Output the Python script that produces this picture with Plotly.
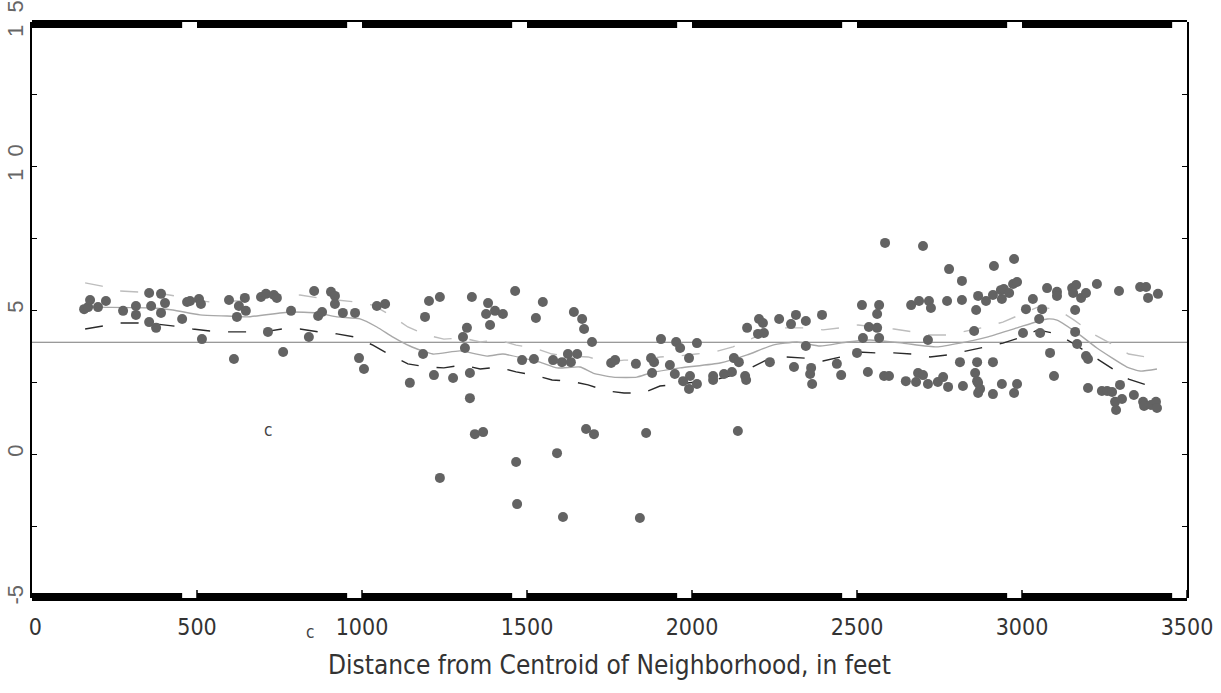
import plotly.graph_objects as go

# ---------------- data ----------------
pt_x = [158, 170, 176, 200, 224, 276, 315, 315, 355, 361, 391, 403, 391, 355, 376, 455, 470, 479, 506, 512,
        515, 597, 645, 627, 648, 621, 612, 694, 709, 733, 742, 715, 761, 785, 855, 839, 906, 918, 918, 867,
        879, 942, 979, 1045, 1070, 991, 1006, 1145, 1185, 1191, 1203, 1236, 1218, 1276, 1236, 1333, 1318, 1306, 1312, 1327,
        1327, 1342, 1367, 1382, 1376, 1403, 1427, 1388, 1464, 1485, 1521, 1467, 1470, 1548, 1527, 1579, 1606, 1624, 1633, 1652,
        1591, 1609, 1642, 1667, 1673, 1697, 1679, 1703, 1755, 1767, 1830, 1861, 1842, 1876, 1885, 1879, 1906, 1933, 1952, 1964,
        1948, 1973, 1991, 1994, 1991, 2015, 2015, 2064, 2064, 2097, 2121, 2127, 2142, 2161, 2164, 2139, 2167, 2203, 2215, 2200,
        2218, 2264, 2300, 2315, 2345, 2345, 2394, 2236, 2309, 2361, 2358, 2364, 2439, 2452, 2500, 2515, 2567, 2561, 2536, 2561,
        2518, 2567, 2533, 2582, 2597, 2585, 2700, 2779, 2915, 2976, 2818, 2664, 2688, 2718, 2724, 2773, 2818, 2867, 2861, 2891,
        2912, 2939, 2936, 2945, 2961, 2973, 2985, 2855, 2715, 2648, 2679, 2685, 2700, 2715, 2745, 2761, 2776, 2821, 2812, 2864,
        2912, 2858, 2864, 2867, 2873, 2867, 2912, 2939, 2985, 2976, 3012, 3033, 3061, 3052, 3003, 3055, 3076, 3106, 3106, 3085,
        3097, 3152, 3164, 3155, 3179, 3194, 3227, 3294, 3358, 3376, 3382, 3412, 3161, 3161, 3167, 3194, 3200, 3200, 3242, 3258,
        3273, 3297, 3282, 3285, 3303, 3339, 3367, 3370, 3391, 3406, 3409]
pt_y = [5.03, 5.10, 5.35, 5.10, 5.31, 4.97, 5.14, 4.83, 5.59, 5.14, 5.56, 5.24, 4.90, 4.58, 4.38, 4.69, 5.28, 5.31, 5.38, 5.21,
        3.99, 5.35, 5.42, 5.14, 4.97, 4.76, 3.30, 5.45, 5.56, 5.52, 5.42, 4.24, 3.54, 4.97, 5.66, 4.06, 5.63, 5.49, 5.21, 4.79,
        4.93, 4.90, 4.90, 5.14, 5.21, 3.33, 2.95, 2.47, 3.47, 4.76, 5.31, 5.45, 2.74, 2.64, -0.83, 5.45, 4.38, 4.06, 3.68, 2.81,
        1.94, 0.69, 0.76, 5.24, 4.86, 4.97, 4.86, 4.48, 5.66, 3.26, 3.30, -0.28, -1.74, 5.28, 4.72, 3.26, 3.19, 3.47, 3.19, 3.47,
        0.03, -2.19, 4.93, 4.69, 4.34, 3.89, 0.87, 0.69, 3.16, 3.26, 3.13, 0.73, -2.22, 3.33, 3.19, 2.81, 3.99, 3.09, 3.89, 3.68,
        2.78, 2.53, 3.33, 2.71, 2.26, 3.85, 2.43, 2.71, 2.57, 2.78, 2.85, 3.33, 3.19, 2.71, 2.57, 0.80, 4.38, 4.69, 4.55, 4.17,
        4.20, 4.69, 4.51, 4.83, 4.62, 3.75, 4.83, 3.19, 3.02, 2.99, 2.78, 2.43, 3.13, 2.74, 3.51, 5.17, 5.17, 4.86, 4.41, 4.38,
        4.03, 4.03, 2.85, 2.71, 2.71, 7.33, 7.22, 6.42, 6.53, 6.77, 6.01, 5.17, 5.31, 5.31, 5.07, 5.31, 5.35, 5.49, 5.00, 5.31,
        5.52, 5.38, 5.69, 5.73, 5.59, 5.90, 5.97, 4.27, 3.96, 2.53, 2.50, 2.81, 2.74, 2.43, 2.50, 2.67, 2.33, 2.36, 3.19, 3.19,
        3.19, 2.81, 2.53, 2.47, 2.26, 2.12, 2.08, 2.43, 2.43, 2.12, 5.03, 5.38, 5.03, 4.69, 4.20, 4.20, 5.76, 5.63, 5.49, 3.51,
        2.71, 5.76, 5.87, 5.59, 5.42, 5.59, 5.90, 5.66, 5.80, 5.80, 5.42, 5.56, 5.00, 4.24, 3.82, 3.40, 3.30, 2.29, 2.19, 2.19,
        2.15, 2.40, 1.81, 1.53, 1.91, 2.05, 1.81, 1.67, 1.70, 1.81, 1.60]

mean_x = [155, 367, 427, 509, 591, 652, 782, 864, 924, 994, 1045, 1094, 1145, 1215, 1297, 1379, 1427, 1488, 1539, 1591,
          1661, 1700, 1761, 1833, 1873, 1964, 2085, 2167, 2245, 2318, 2388, 2470, 2539, 2639, 2742, 2812, 2894, 2985, 3076,
          3106, 3176, 3227, 3318, 3358, 3409]
mean_y = [5.10, 5.07, 5.00, 4.83, 4.79, 4.76, 4.93, 4.90, 4.76, 4.69, 4.41, 4.06, 3.75, 3.47, 3.58, 3.40, 3.47, 3.33, 3.19, 2.99,
          3.02, 2.81, 2.67, 2.67, 2.81, 2.99, 3.16, 3.44, 3.78, 3.89, 3.75, 3.89, 3.96, 3.85, 3.72, 3.85, 4.06, 4.38, 4.69,
          4.65, 4.13, 3.68, 3.02, 2.88, 2.95]

band_x = [161, 212, 267, 321, 379, 433, 487, 539, 594, 646, 703, 758, 812, 867, 924, 979, 1033, 1085, 1139, 1197,
          1248, 1306, 1358, 1412, 1467, 1523, 1576, 1630, 1685, 1742, 1794, 1852, 1903, 1958, 2012, 2067, 2124, 2178, 2232, 2285,
          2342, 2397, 2450, 2503, 2561, 2612, 2670, 2721, 2776, 2832, 2888, 2942, 2999, 3048, 3106, 3158, 3215, 3267, 3323, 3376]
upper_y = [5.94, 5.83, 5.66, 5.63, 5.59, 5.49, 5.35, 5.28, 5.31, 5.31, 5.45, 5.45, 5.52, 5.42, 5.35, 5.28, 5.17, 4.83, 4.41, 4.13,
           3.99, 4.03, 3.89, 3.96, 3.78, 3.68, 3.47, 3.40, 3.37, 3.19, 3.26, 3.26, 3.37, 3.40, 3.47, 3.54, 3.72, 3.99, 4.27, 4.38,
           4.38, 4.31, 4.38, 4.48, 4.41, 4.34, 4.24, 4.13, 4.13, 4.27, 4.41, 4.58, 4.86, 5.10, 5.03, 4.65, 4.17, 3.85, 3.47, 3.37]
lower_y = [4.34, 4.44, 4.55, 4.55, 4.51, 4.44, 4.34, 4.27, 4.24, 4.24, 4.24, 4.34, 4.34, 4.24, 4.17, 4.06, 3.78, 3.44, 3.13, 3.02,
           2.99, 3.09, 2.95, 3.02, 2.85, 2.74, 2.57, 2.53, 2.40, 2.19, 2.12, 2.12, 2.36, 2.43, 2.50, 2.57, 2.74, 2.99, 3.30, 3.37,
           3.33, 3.23, 3.37, 3.54, 3.51, 3.51, 3.47, 3.37, 3.44, 3.58, 3.72, 3.85, 4.06, 4.31, 4.17, 3.82, 3.40, 3.02, 2.60, 2.40]

REF_LEVEL = 3.88
X_RANGE = [0, 3500]
Y_RANGE = [-5, 15]
x_ticks = [0, 500, 1000, 1500, 2000, 2500, 3000, 3500]
x_ticktext = ["\u00a00", "500", "1000", "1500", "2000", "2500", "3000", "3500"]
y_ticks = [-5, 0, 5, 10, 15]
y_ticktext = ["-5", "0", "5", "1\u00a0\u00a00", "1\u00a0\u00a05"]
inner_label = (715, 0.83, "c")
below_label = (842, "c")
x_title = "Distance from Centroid of Neighborhood, in feet"

NARROW = "Liberation Sans Narrow, DejaVu Sans Condensed, Arial Narrow, sans-serif"

W, H = 1221, 693
M = dict(l=32, r=34, t=22, b=95)
PLOT_H = H - M["t"] - M["b"]


def xfrac(v):
    return (v - X_RANGE[0]) / (X_RANGE[1] - X_RANGE[0])


def pfrac(off_px):
    return off_px / PLOT_H


fig = go.Figure()
fig.add_trace(go.Scatter(x=band_x, y=upper_y, mode="lines", line=dict(color="#bdbdbd", width=1.4, dash="18px,18px"),
                         hoverinfo="skip", showlegend=False))
fig.add_trace(go.Scatter(x=band_x, y=lower_y, mode="lines", line=dict(color="#2a2a2a", width=1.4, dash="18px,18px"),
                         hoverinfo="skip", showlegend=False))
fig.add_trace(go.Scatter(x=mean_x, y=mean_y, mode="lines",
                         line=dict(color="#a8a8a8", width=1.4, shape="spline", smoothing=0.5),
                         hoverinfo="skip", showlegend=False))
fig.add_trace(go.Scatter(x=pt_x, y=pt_y, mode="markers",
                         marker=dict(color="#636363", size=10, line=dict(width=0)), showlegend=False))

fig.add_hline(y=REF_LEVEL, line=dict(color="#7a7a7a", width=1), layer="below")

# thick top/bottom frame bars with small white notches just before each tick
for (base, lo, hi) in [(1.0, -6, 2), (0.0, -3, 5)]:
    fig.add_shape(type="rect", xref="paper", yref="paper",
                  x0=xfrac(x_ticks[0]), x1=xfrac(x_ticks[-1]), y0=base + pfrac(lo), y1=base + pfrac(hi),
                  fillcolor="black", line=dict(width=0), layer="above")
NOTCH = 45
for t in x_ticks[1:]:
    fig.add_shape(type="rect", xref="paper", yref="paper",
                  x0=xfrac(t - NOTCH), x1=xfrac(t), y0=1.0 - pfrac(6), y1=1.0,
                  fillcolor="white", line=dict(width=0), layer="above")
    fig.add_shape(type="rect", xref="paper", yref="paper",
                  x0=xfrac(t - NOTCH), x1=xfrac(t), y0=0.0, y1=pfrac(7),
                  fillcolor="white", line=dict(width=0), layer="above")
    fig.add_shape(type="line", xref="paper", yref="paper",
                  x0=xfrac(t), x1=xfrac(t), y0=0.0, y1=pfrac(8),
                  line=dict(color="black", width=1.5), layer="above")

fig.add_annotation(x=inner_label[0], y=inner_label[1], text=inner_label[2], showarrow=False, xref="x", yref="y",
                   font=dict(family=NARROW, size=17, color="#444444"))
fig.add_annotation(x=below_label[0], y=0, yshift=-34, yanchor="middle", text=below_label[1], showarrow=False,
                   xref="x", yref="paper", font=dict(family=NARROW, size=17, color="#444444"))

fig.update_layout(
    width=W, height=H,
    margin=dict(**M, autoexpand=False),
    paper_bgcolor="white", plot_bgcolor="white",
    xaxis=dict(range=X_RANGE, tickvals=x_ticks, ticktext=x_ticktext, showgrid=False, zeroline=False,
               showline=False, ticks="", automargin=False,
               tickfont=dict(family=NARROW, size=23, color="#333333"), ticklabelstandoff=13,
               title=dict(text=x_title, font=dict(family=NARROW, size=26, color="#333333"), standoff=16)),
    yaxis=dict(range=Y_RANGE, tickvals=y_ticks, ticktext=y_ticktext, showgrid=False, zeroline=False,
               showline=True, linecolor="black", linewidth=2, mirror="ticks", automargin=False,
               ticks="inside", ticklen=5, tickcolor="black", tickwidth=1, tickangle=-90,
               minor=dict(tickvals=[-2.5, 2.5, 7.5, 12.5], ticks="inside", ticklen=5, tickcolor="black"),
               tickfont=dict(family="Liberation Sans, Arial, sans-serif", size=22, color="#666666"),
               ticklabelstandoff=-2),
)

fig.write_html("out.html")
